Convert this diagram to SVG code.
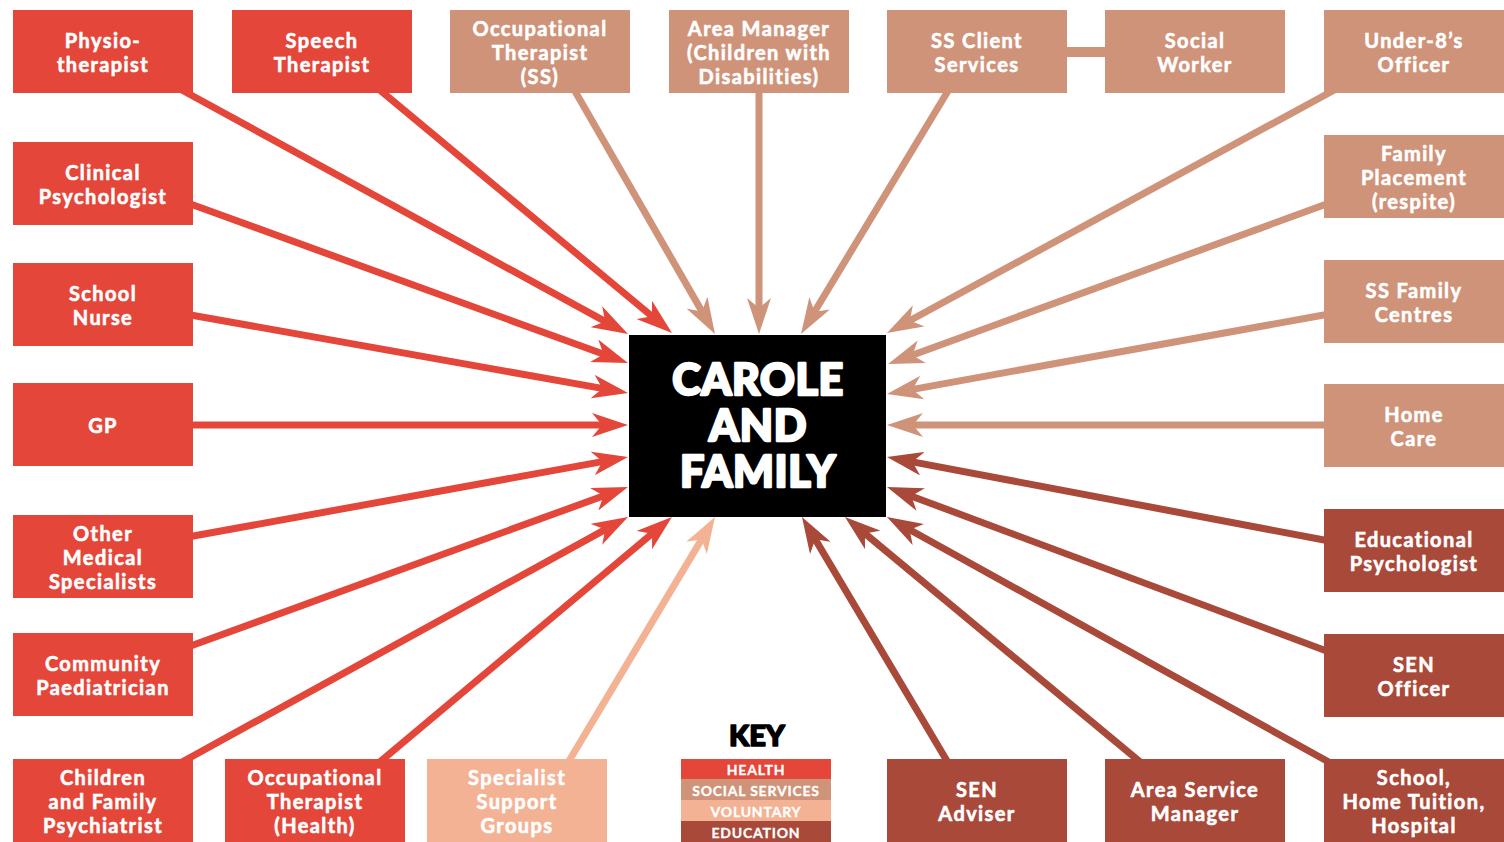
<svg xmlns="http://www.w3.org/2000/svg" width="1504" height="842" viewBox="0 0 1504 842">
<style>
.h{fill:#e4463a}.s{fill:#cf9379}.v{fill:#f4b294}.e{fill:#a9493a}
.ch{stroke:#e4463a}.cs{stroke:#cf9379}.cv{stroke:#f4b294}.ce{stroke:#a9493a}
.c line{stroke-width:7;fill:none}
.t{font-family:Lato,"Liberation Sans",sans-serif;font-weight:700;font-size:20px;letter-spacing:1.4px;fill:#fff;stroke:#fff;stroke-width:0.6;text-anchor:middle}
.title{font-family:Lato,"Liberation Sans",sans-serif;font-weight:900;font-size:43px;letter-spacing:0.6px;fill:#fff;stroke:#fff;stroke-width:2.4;stroke-linejoin:round;text-anchor:middle}
.key{font-family:Lato,"Liberation Sans",sans-serif;font-weight:900;font-size:29px;fill:#000;stroke:#000;stroke-width:1.6;stroke-linejoin:round;text-anchor:middle}
.kt{font-family:Lato,"Liberation Sans",sans-serif;font-weight:700;font-size:14px;letter-spacing:0.8px;fill:#fff;stroke:#fff;stroke-width:0.3;text-anchor:middle}
</style>
<defs>
<marker id="mh" viewBox="0 -12 36 24" markerWidth="36" markerHeight="24" refX="14" refY="0" orient="auto" markerUnits="userSpaceOnUse"><path d="M0,-12L36,0L0,12L10,0Z" fill="#e4463a"/></marker>
<marker id="ms" viewBox="0 -12 36 24" markerWidth="36" markerHeight="24" refX="14" refY="0" orient="auto" markerUnits="userSpaceOnUse"><path d="M0,-12L36,0L0,12L10,0Z" fill="#cf9379"/></marker>
<marker id="mv" viewBox="0 -12 36 24" markerWidth="36" markerHeight="24" refX="14" refY="0" orient="auto" markerUnits="userSpaceOnUse"><path d="M0,-12L36,0L0,12L10,0Z" fill="#f4b294"/></marker>
<marker id="me" viewBox="0 -12 36 24" markerWidth="36" markerHeight="24" refX="14" refY="0" orient="auto" markerUnits="userSpaceOnUse"><path d="M0,-12L36,0L0,12L10,0Z" fill="#a9493a"/></marker>
</defs>
<rect width="1504" height="842" fill="#fff"/>
<g id="connectors" class="c">
<line class="ch" x1="180" y1="89" x2="608.7" y2="323.4" marker-end="url(#mh)"/>
<line class="ch" x1="375" y1="86" x2="655.1" y2="318.9" marker-end="url(#mh)"/>
<line class="ch" x1="185" y1="202" x2="607.3" y2="355.5" marker-end="url(#mh)"/>
<line class="ch" x1="185" y1="314" x2="606.3" y2="389.1" marker-end="url(#mh)"/>
<line class="ch" x1="185" y1="425" x2="606" y2="425" marker-end="url(#mh)"/>
<line class="ch" x1="185" y1="537.5" x2="606.4" y2="460.9" marker-end="url(#mh)"/>
<line class="ch" x1="185" y1="648" x2="607.3" y2="494.5" marker-end="url(#mh)"/>
<line class="ch" x1="182" y1="762" x2="608.7" y2="527.6" marker-end="url(#mh)"/>
<line class="ch" x1="375" y1="766" x2="655.1" y2="531.1" marker-end="url(#mh)"/>
<line class="cv" x1="566" y1="766" x2="703.7" y2="535.9" marker-end="url(#mv)"/>
<line class="cs" x1="572" y1="86" x2="704" y2="314.9" marker-end="url(#ms)"/>
<line class="cs" x1="759" y1="86" x2="759" y2="312" marker-end="url(#ms)"/>
<line class="cs" x1="951" y1="86" x2="812.4" y2="315.2" marker-end="url(#ms)"/>
<line class="cs" x1="1338" y1="88" x2="906.3" y2="322.5" marker-end="url(#ms)"/>
<line class="cs" x1="1332" y1="202" x2="908.7" y2="356.5" marker-end="url(#ms)"/>
<line class="cs" x1="1332" y1="313.5" x2="908.6" y2="390.1" marker-end="url(#ms)"/>
<line class="cs" x1="1332" y1="425" x2="909" y2="425" marker-end="url(#ms)"/>
<line class="ce" x1="1332" y1="541.5" x2="908.6" y2="461.1" marker-end="url(#me)"/>
<line class="ce" x1="1332" y1="653" x2="907.6" y2="494.7" marker-end="url(#me)"/>
<line class="ce" x1="1336" y1="766" x2="906.2" y2="527.7" marker-end="url(#me)"/>
<line class="ce" x1="1145" y1="766" x2="861.9" y2="531" marker-end="url(#me)"/>
<line class="ce" x1="950" y1="766" x2="813.2" y2="535.9" marker-end="url(#me)"/>
<line class="cs" x1="1060" y1="52" x2="1110" y2="52" style="stroke-width:10"/>
</g>
<g id="center"><rect x="629" y="335" width="257" height="182" fill="#000"/>
<text class="title" x="758" y="395">CAROLE<tspan x="758" dy="46">AND</tspan><tspan x="758" dy="46">FAMILY</tspan></text></g>
<g id="physio"><rect class="h" x="13" y="10" width="180" height="83"/><text class="t" x="103" y="47.5">Physio-<tspan x="103" dy="24">therapist</tspan></text></g>
<g id="speech"><rect class="h" x="232" y="10" width="180" height="83"/><text class="t" x="322" y="47.5">Speech<tspan x="322" dy="24">Therapist</tspan></text></g>
<g id="clinical"><rect class="h" x="13" y="142" width="180" height="83"/><text class="t" x="103" y="179.5">Clinical<tspan x="103" dy="24">Psychologist</tspan></text></g>
<g id="schoolnurse"><rect class="h" x="13" y="263" width="180" height="83"/><text class="t" x="103" y="300.5">School<tspan x="103" dy="24">Nurse</tspan></text></g>
<g id="gp"><rect class="h" x="13" y="383" width="180" height="83"/><text class="t" x="103" y="432.5">GP</text></g>
<g id="othermed"><rect class="h" x="13" y="515" width="180" height="83"/><text class="t" x="103" y="540.5">Other<tspan x="103" dy="24">Medical</tspan><tspan x="103" dy="24">Specialists</tspan></text></g>
<g id="community"><rect class="h" x="13" y="633" width="180" height="83"/><text class="t" x="103" y="670.5">Community<tspan x="103" dy="24">Paediatrician</tspan></text></g>
<g id="cfpsych"><rect class="h" x="13" y="759" width="180" height="83"/><text class="t" x="103" y="784.5">Children<tspan x="103" dy="24">and Family</tspan><tspan x="103" dy="24">Psychiatrist</tspan></text></g>
<g id="othealth"><rect class="h" x="225" y="759" width="180" height="83"/><text class="t" x="315" y="784.5">Occupational<tspan x="315" dy="24">Therapist</tspan><tspan x="315" dy="24">(Health)</tspan></text></g>
<g id="specialist"><rect class="v" x="427" y="759" width="180" height="83"/><text class="t" x="517" y="784.5">Specialist<tspan x="517" dy="24">Support</tspan><tspan x="517" dy="24">Groups</tspan></text></g>
<g id="otss"><rect class="s" x="450" y="10" width="180" height="83"/><text class="t" x="540" y="35.5">Occupational<tspan x="540" dy="24">Therapist</tspan><tspan x="540" dy="24">(SS)</tspan></text></g>
<g id="areamanager"><rect class="s" x="669" y="10" width="180" height="83"/><text class="t" x="759" y="35.5">Area Manager<tspan x="759" dy="24">(Children with</tspan><tspan x="759" dy="24">Disabilities)</tspan></text></g>
<g id="ssclient"><rect class="s" x="887" y="10" width="180" height="83"/><text class="t" x="977" y="47.5">SS Client<tspan x="977" dy="24">Services</tspan></text></g>
<g id="socialworker"><rect class="s" x="1105" y="10" width="180" height="83"/><text class="t" x="1195" y="47.5">Social<tspan x="1195" dy="24">Worker</tspan></text></g>
<g id="under8"><rect class="s" x="1324" y="10" width="180" height="83"/><text class="t" x="1414" y="47.5">Under-8’s<tspan x="1414" dy="24">Officer</tspan></text></g>
<g id="familyplacement"><rect class="s" x="1324" y="135" width="180" height="83"/><text class="t" x="1414" y="160.5">Family<tspan x="1414" dy="24">Placement</tspan><tspan x="1414" dy="24">(respite)</tspan></text></g>
<g id="ssfamily"><rect class="s" x="1324" y="260" width="180" height="83"/><text class="t" x="1414" y="297.5">SS Family<tspan x="1414" dy="24">Centres</tspan></text></g>
<g id="homecare"><rect class="s" x="1324" y="384" width="180" height="83"/><text class="t" x="1414" y="421.5">Home<tspan x="1414" dy="24">Care</tspan></text></g>
<g id="edpsych"><rect class="e" x="1324" y="509" width="180" height="83"/><text class="t" x="1414" y="546.5">Educational<tspan x="1414" dy="24">Psychologist</tspan></text></g>
<g id="senofficer"><rect class="e" x="1324" y="634" width="180" height="83"/><text class="t" x="1414" y="671.5">SEN<tspan x="1414" dy="24">Officer</tspan></text></g>
<g id="school"><rect class="e" x="1324" y="759" width="180" height="83"/><text class="t" x="1414" y="784.5">School,<tspan x="1414" dy="24">Home Tuition,</tspan><tspan x="1414" dy="24">Hospital</tspan></text></g>
<g id="areaservice"><rect class="e" x="1105" y="759" width="180" height="83"/><text class="t" x="1195" y="796.5">Area Service<tspan x="1195" dy="24">Manager</tspan></text></g>
<g id="senadviser"><rect class="e" x="887" y="759" width="180" height="83"/><text class="t" x="977" y="796.5">SEN<tspan x="977" dy="24">Adviser</tspan></text></g>
<g id="legend">
<text class="key" x="757" y="746">KEY</text>
<rect class="h" x="681" y="759" width="150" height="20"/><text class="kt" x="756" y="774.5">HEALTH</text>
<rect class="s" x="681" y="779" width="150" height="21"/><text class="kt" x="756" y="795.5">SOCIAL SERVICES</text>
<rect class="v" x="681" y="800" width="150" height="21"/><text class="kt" x="756" y="816.5">VOLUNTARY</text>
<rect class="e" x="681" y="821" width="150" height="21"/><text class="kt" x="756" y="837.5">EDUCATION</text>
</g>
</svg>
